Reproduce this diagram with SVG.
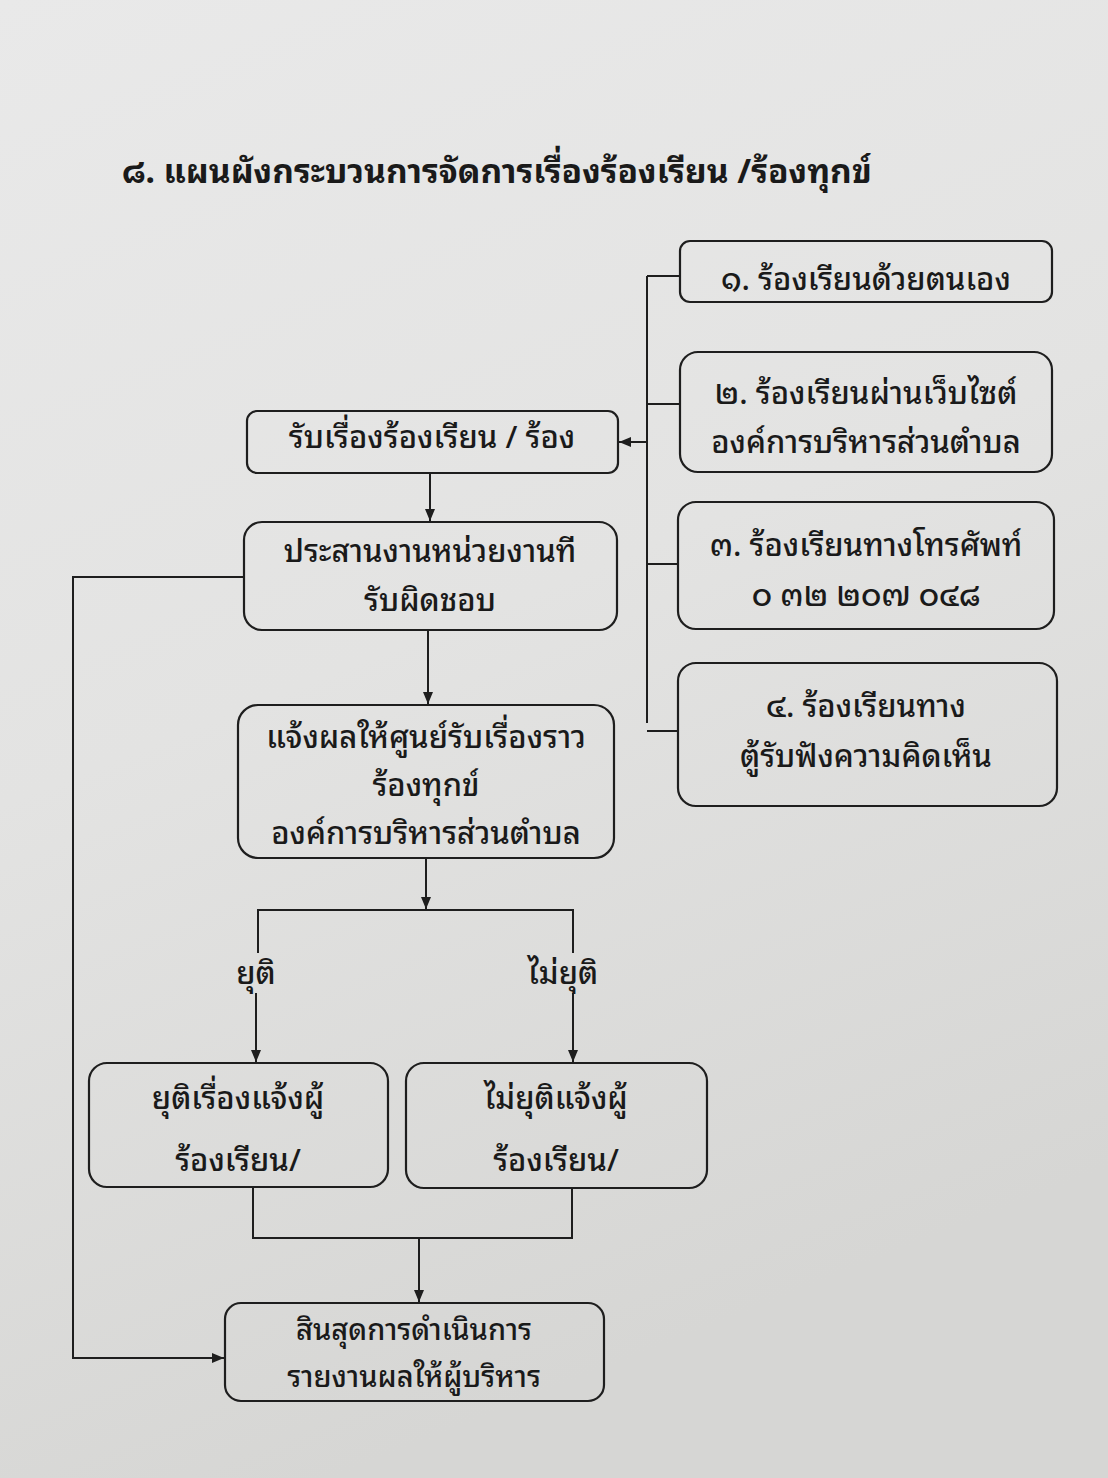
<svg xmlns="http://www.w3.org/2000/svg" width="1108" height="1478" viewBox="0 0 1108 1478">
<defs>
<linearGradient id="bg" x1="0" y1="0" x2="0.3" y2="1">
<stop offset="0" stop-color="#e9e9e9"/>
<stop offset="0.5" stop-color="#e3e3e2"/>
<stop offset="1" stop-color="#d6d6d4"/>
</linearGradient>
<marker id="arr" viewBox="0 0 12 10" refX="12" refY="5" markerWidth="12" markerHeight="10" markerUnits="userSpaceOnUse" orient="auto">
<path d="M0,0 L12,5 L0,10 z" fill="#1e1e1e"/>
</marker>
<style>
.box{fill:none;stroke:#1e1e1e;stroke-width:2.2}
.ln{fill:none;stroke:#1e1e1e;stroke-width:2}
text{font-family:"Noto Sans Thai Looped","Noto Serif Thai","Noto Sans Thai","Noto Sans","DejaVu Sans",sans-serif;fill:#1a1a1a;text-anchor:middle;font-size:31px;font-weight:500}
.title{font-size:33.5px;font-weight:bold;text-anchor:start}
.sm{font-size:29px}
</style>
</defs>
<rect width="1108" height="1478" fill="url(#bg)"/>
<text class="title" x="122" y="183">๘. แผนผังกระบวนการจัดการเรื่องร้องเรียน /ร้องทุกข์</text>

<g id="connectors">
<line class="ln" x1="647" y1="276" x2="647" y2="723"/>
<line class="ln" x1="647" y1="276" x2="680" y2="276"/>
<line class="ln" x1="647" y1="404" x2="680" y2="404"/>
<line class="ln" x1="647" y1="564" x2="678" y2="564"/>
<line class="ln" x1="647" y1="731" x2="678" y2="731"/>
<line class="ln" x1="647" y1="442" x2="619" y2="442" marker-end="url(#arr)"/>
<line class="ln" x1="430" y1="473" x2="430" y2="521" marker-end="url(#arr)"/>
<line class="ln" x1="428" y1="630" x2="428" y2="704" marker-end="url(#arr)"/>
<line class="ln" x1="426" y1="858" x2="426" y2="909" marker-end="url(#arr)"/>
<polyline class="ln" points="258,953 258,910 573,910 573,953"/>
<line class="ln" x1="256" y1="993" x2="256" y2="1062" marker-end="url(#arr)"/>
<line class="ln" x1="573" y1="993" x2="573" y2="1062" marker-end="url(#arr)"/>
<polyline class="ln" points="253,1187 253,1238 572,1238 572,1188"/>
<line class="ln" x1="419" y1="1238" x2="419" y2="1302" marker-end="url(#arr)"/>
<polyline class="ln" points="244,577 73,577 73,1358 224,1358" marker-end="url(#arr)"/>
<text x="256" y="984">ยุติ</text>
<text x="563" y="984">ไม่ยุติ</text>
</g>

<g id="n1"><rect class="box" x="680" y="241" width="372" height="61" rx="10"/><text x="866" y="290">๑. ร้องเรียนด้วยตนเอง</text></g>
<g id="n2"><rect class="box" x="680" y="352" width="372" height="120" rx="18"/><text x="866" y="404">๒. ร้องเรียนผ่านเว็บไซต์</text><text x="866" y="453">องค์การบริหารส่วนตำบล</text></g>
<g id="n3"><rect class="box" x="678" y="502" width="376" height="127" rx="18"/><text x="866" y="556">๓. ร้องเรียนทางโทรศัพท์</text><text x="866" y="606">๐ ๓๒ ๒๐๗ ๐๔๘</text></g>
<g id="n4"><rect class="box" x="678" y="663" width="379" height="143" rx="18"/><text x="866" y="717">๔. ร้องเรียนทาง</text><text x="866" y="767">ตู้รับฟังความคิดเห็น</text></g>
<g id="nA"><rect class="box" x="247" y="411" width="371" height="62" rx="10"/><text x="432" y="448">รับเรื่องร้องเรียน / ร้อง</text></g>
<g id="nB"><rect class="box" x="244" y="522" width="373" height="108" rx="18"/><text x="430" y="562">ประสานงานหน่วยงานที</text><text x="430" y="611">รับผิดชอบ</text></g>
<g id="nC"><rect class="box" x="238" y="705" width="376" height="153" rx="20"/><text x="426" y="748">แจ้งผลให้ศูนย์รับเรื่องราว</text><text x="426" y="796">ร้องทุกข์</text><text x="426" y="844">องค์การบริหารส่วนตำบล</text></g>
<g id="nD"><rect class="box" x="89" y="1063" width="299" height="124" rx="18"/><text x="238" y="1109">ยุติเรื่องแจ้งผู้</text><text x="238" y="1171">ร้องเรียน/</text></g>
<g id="nE"><rect class="box" x="406" y="1063" width="301" height="125" rx="18"/><text x="556" y="1109">ไม่ยุติแจ้งผู้</text><text x="556" y="1171">ร้องเรียน/</text></g>
<g id="nF"><rect class="box" x="225" y="1303" width="379" height="98" rx="16"/><text class="sm" x="414" y="1340">สินสุดการดำเนินการ</text><text class="sm" x="414" y="1387">รายงานผลให้ผู้บริหาร</text></g>
</svg>
